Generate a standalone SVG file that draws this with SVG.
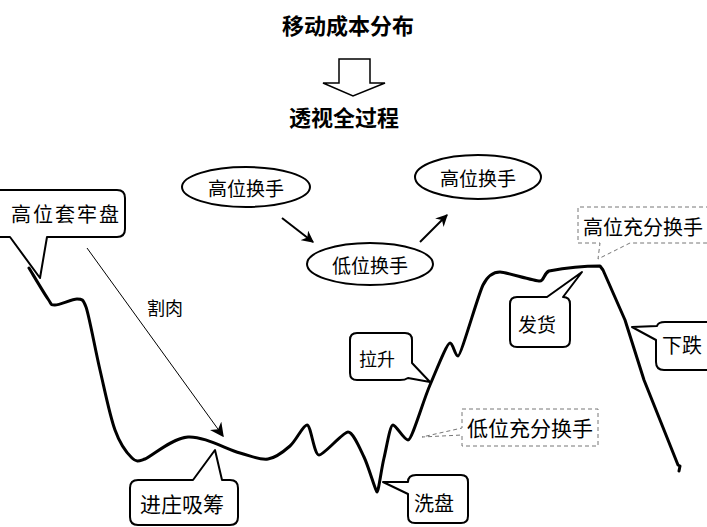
<svg xmlns="http://www.w3.org/2000/svg" width="707" height="527" viewBox="0 0 707 527">
<style>
text{font-family:"Noto Sans CJK SC","Liberation Sans",sans-serif;fill:#000;}
.title{font-size:22px;font-weight:bold;text-anchor:middle;}
.lbl{font-size:20px;text-anchor:middle;dominant-baseline:central;}
.call{fill:#fff;stroke:#000;stroke-width:2;stroke-linejoin:round;}
.dash{fill:#fff;stroke:#777;stroke-width:1;stroke-dasharray:4 3;}
.ell{fill:#fff;stroke:#000;stroke-width:2;}
.curve{fill:none;stroke:#000;stroke-width:3;stroke-linejoin:round;stroke-linecap:round;}
</style>
<defs>
<marker id="ah" viewBox="0 0 10 10" refX="9" refY="5" markerWidth="12" markerHeight="12" markerUnits="userSpaceOnUse" orient="auto">
<path d="M0,0 L10,5 L0,10 L3,5 Z" fill="#000"/>
</marker>
<marker id="ah2" viewBox="0 0 10 10" refX="9" refY="5" markerWidth="14" markerHeight="14" markerUnits="userSpaceOnUse" orient="auto">
<path d="M0,0 L10,5 L0,10 L3,5 Z" fill="#000"/>
</marker>
</defs>

<g id="title">
<text class="title" x="348" y="34">移动成本分布</text>
<path d="M339,59 H370 V83 H385 L353,96 L323,83 H339 Z" fill="#fff" stroke="#000" stroke-width="1.5" stroke-linejoin="miter"/>
<text class="title" x="344" y="126">透视全过程</text>
</g>

<g id="price-curve">
<path class="curve" d="M29,268 C32.2,273.2 43.7,292.8 48,299 C52.3,305.2 50.2,305 55,305 C59.8,305 72,299 77,299 C82,299 83,299 86,307 C89,315 95.2,349.5 100,370 C104.8,390.5 109.7,415.3 115,430 C120.3,444.7 127,453.2 132,458 C137,462.8 139,461 145,459 C151,457 172.2,438 188,437 C203.8,436 226.7,449.3 240,453 C253.3,456.7 259.7,460.2 268,459 C276.3,457.8 283.5,451.7 290,446 C296.5,440.3 303,425 307,425 C311,425 314,455 319,455 C324,455 343,432 348,432 C353,432 359.2,447 364,457 C368.8,467 375,490 377,492 C378.5,492 381.3,469.2 384,458 C386.7,446.8 390,425 393,425 C396,425 404,440 408,440 C412,440 423,401 430,385 C437,368.8 447,343 450,343 C453,343 455,356 458,356 C461,356 478,295 483,285 C488,275 494,272 500,272 C506,272 533,281 540,281 C544,281 544,273 549,271 C565,268 585,266 600,266 L603,270 L625,320 L644,380 L660,420 L678,465 L680,466 L679,471"/>
</g>

<g id="cycle-high-1">
<ellipse class="ell" cx="246" cy="187" rx="64" ry="20"/>
<text class="lbl" x="246" y="187" style="font-size:19px">高位换手</text>
</g>
<g id="cycle-low">
<ellipse class="ell" cx="370" cy="264" rx="63" ry="21"/>
<text class="lbl" x="370" y="264" style="font-size:19px">低位换手</text>
</g>
<g id="cycle-high-2">
<ellipse class="ell" cx="478" cy="177" rx="63" ry="22"/>
<text class="lbl" x="478" y="177" style="font-size:19px">高位换手</text>
</g>

<g id="connectors">
<line x1="282" y1="218" x2="313" y2="242" stroke="#000" stroke-width="2" marker-end="url(#ah)"/>
<line x1="420" y1="242" x2="447" y2="215" stroke="#000" stroke-width="2" marker-end="url(#ah)"/>
<line x1="87" y1="248" x2="223" y2="436" stroke="#000" stroke-width="1" marker-end="url(#ah2)"/>
</g>

<g id="label-cut">
<text class="lbl" x="165" y="307" style="font-size:18px">割肉</text>
</g>

<g id="callout-trapped">
<path class="call" d="M0,190 H117 Q125,190 125,198 V229 Q125,237 117,237 H47 L40,278 L10,237 H0"/>
<text class="lbl" x="66" y="213" style="letter-spacing:2px">高位套牢盘</text>
</g>

<g id="callout-accumulate">
<path class="call" d="M138,480 H193 L215,450 L222,480 H230 Q238,480 238,488 V517 Q238,525 230,525 H138 Q130,525 130,517 V488 Q130,480 138,480 Z"/>
<text class="lbl" x="182" y="503" style="font-size:21px">进庄吸筹</text>
</g>

<g id="callout-shakeout">
<path class="call" d="M416,475 H461 Q468,475 468,482 V516 Q468,523 461,523 H415 Q408,523 408,516 V494 L383,482 L408,482 Q408,475 416,475 Z"/>
<text class="lbl" x="434" y="502">洗盘</text>
</g>

<g id="callout-rise">
<path class="call" d="M357,333 H405 Q412,333 412,340 V363 L430,382 L408,378 Q405,380 400,380 H357 Q350,380 350,373 V340 Q350,333 357,333 Z"/>
<text class="lbl" x="377" y="358" style="font-size:18px">拉升</text>
</g>

<g id="callout-low-exchange">
<path class="dash" d="M462,409 H598 V446 H462 V435 L422,437 L462,428 Z"/>
<text class="lbl" x="530" y="427" style="font-size:21px">低位充分换手</text>
</g>

<g id="callout-distribute">
<path class="call" d="M517,297 H547 L582,272 L563,297 Q570,297 570,304 V340 Q570,347 563,347 H517 Q510,347 510,340 V304 Q510,297 517,297 Z"/>
<text class="lbl" x="537" y="323" style="font-size:19px">发货</text>
</g>

<g id="callout-high-exchange">
<path class="dash" d="M710,207 H578 V243 H600 L598,259 L630,243 H710"/>
<text class="lbl" x="643" y="226">高位充分换手</text>
</g>

<g id="callout-fall">
<path class="call" d="M710,322 H665 Q658,322 657,326 L632,327 L656,340 V362 Q656,370 664,370 H710"/>
<text class="lbl" x="682" y="344">下跌</text>
</g>
</svg>
